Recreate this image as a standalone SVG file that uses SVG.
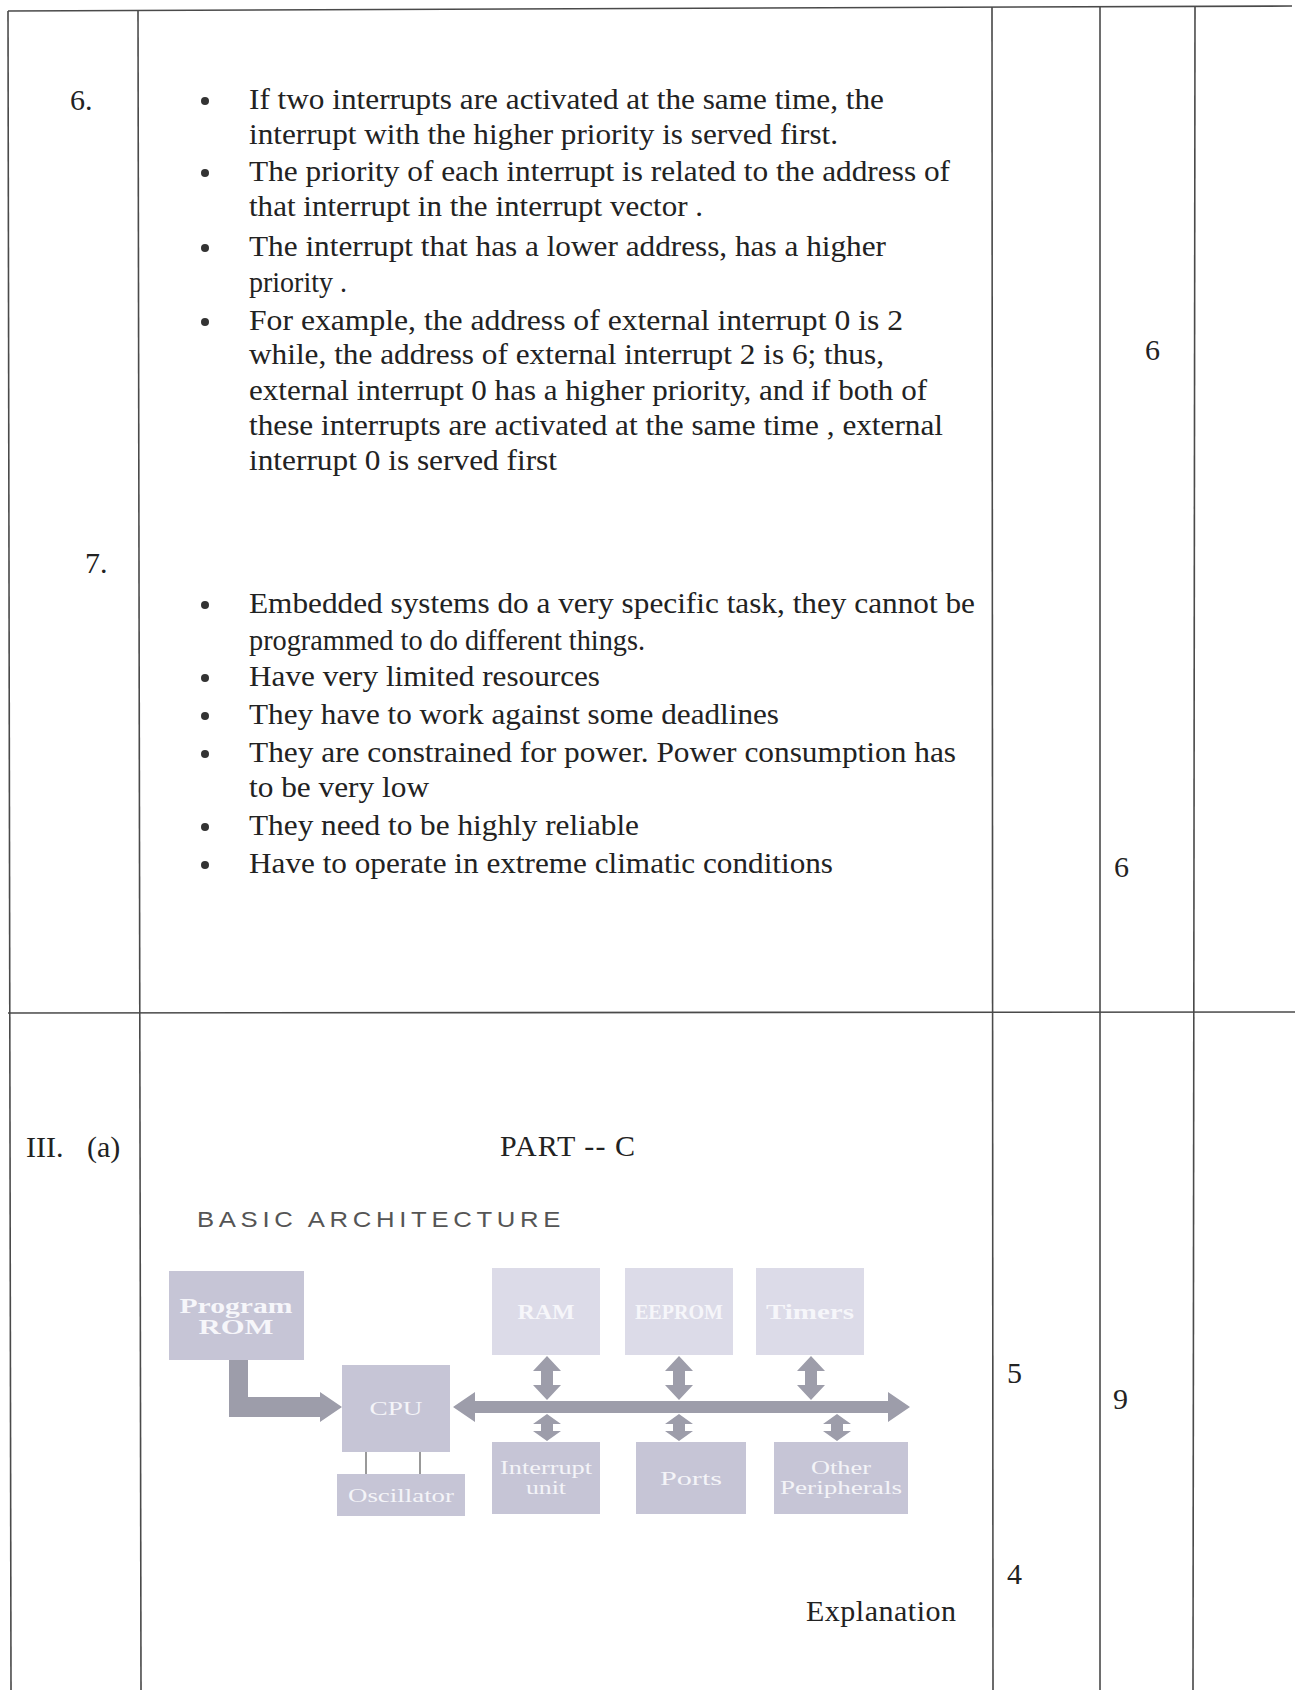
<svg xmlns="http://www.w3.org/2000/svg" width="1295" height="1690" viewBox="0 0 1295 1690">
<style>
.t{font-family:"Liberation Serif","Times New Roman",serif;font-size:30px;fill:#222}
.rule{stroke:#4a4a4a;stroke-width:1.6;fill:none}
.bul{fill:#333}
.box{fill:#c6c5d6}
.boxl{fill:#dcdbe8}
.bl{font-family:"Liberation Serif","Times New Roman",serif;font-size:21px;fill:#f6f6fa;text-anchor:middle;font-weight:bold}
.bw{font-family:"Liberation Serif","Times New Roman",serif;font-size:19px;fill:#f4f4f8;text-anchor:middle}
.arr{fill:#9d9daa}
.head{font-family:"Liberation Sans",Arial,sans-serif;font-size:22px;fill:#555;letter-spacing:4px}
</style>
<rect width="1295" height="1690" fill="#ffffff"/>
<g id="table">
<line class="rule" x1="8" y1="11" x2="1292" y2="6"/>
<line class="rule" x1="8" y1="1013" x2="1295" y2="1012"/>
<line class="rule" x1="8" y1="11" x2="11" y2="1690"/>
<line class="rule" x1="138" y1="11" x2="141" y2="1690"/>
<line class="rule" x1="992" y1="7" x2="993" y2="1690"/>
<line class="rule" x1="1100" y1="7" x2="1100" y2="1690"/>
<line class="rule" x1="1195" y1="6" x2="1193" y2="1690"/>
</g>
<g id="q6">
<text class="t" x="70" y="110">6.</text>
<circle class="bul" cx="205" cy="101" r="4"/>
<circle class="bul" cx="205" cy="173" r="4"/>
<circle class="bul" cx="205" cy="248" r="4"/>
<circle class="bul" cx="205" cy="322" r="4"/>
<text class="t" x="249" y="109" textLength="635" lengthAdjust="spacingAndGlyphs">If two interrupts are activated at the same time, the</text>
<text class="t" x="249" y="144" textLength="589" lengthAdjust="spacingAndGlyphs">interrupt with the higher priority is served first.</text>
<text class="t" x="249" y="181" textLength="701" lengthAdjust="spacingAndGlyphs">The priority of each interrupt is related to the address of</text>
<text class="t" x="249" y="216" textLength="454" lengthAdjust="spacingAndGlyphs">that interrupt in the interrupt vector .</text>
<text class="t" x="249" y="256" textLength="637" lengthAdjust="spacingAndGlyphs">The interrupt that has a lower address, has a higher</text>
<text class="t" x="249" y="292" textLength="98" lengthAdjust="spacingAndGlyphs">priority .</text>
<text class="t" x="249" y="330" textLength="654" lengthAdjust="spacingAndGlyphs">For example, the address of external interrupt  0 is 2</text>
<text class="t" x="249" y="364" textLength="635" lengthAdjust="spacingAndGlyphs">while, the address of external interrupt 2 is 6; thus,</text>
<text class="t" x="249" y="400" textLength="678" lengthAdjust="spacingAndGlyphs">external interrupt 0 has a  higher priority, and if both of</text>
<text class="t" x="249" y="435" textLength="694" lengthAdjust="spacingAndGlyphs">these interrupts are activated at the same time , external</text>
<text class="t" x="249" y="470" textLength="308" lengthAdjust="spacingAndGlyphs">interrupt 0 is served first</text>
<text class="t" x="1145" y="360">6</text>
</g>
<g id="q7">
<text class="t" x="85" y="573">7.</text>
<circle class="bul" cx="205" cy="605" r="4"/>
<circle class="bul" cx="205" cy="678" r="4"/>
<circle class="bul" cx="205" cy="716" r="4"/>
<circle class="bul" cx="205" cy="754" r="4"/>
<circle class="bul" cx="205" cy="827" r="4"/>
<circle class="bul" cx="205" cy="865" r="4"/>
<text class="t" x="249" y="613" textLength="726" lengthAdjust="spacingAndGlyphs">Embedded systems do a very specific task, they cannot be</text>
<text class="t" x="249" y="650" textLength="396" lengthAdjust="spacingAndGlyphs">programmed to do different things.</text>
<text class="t" x="249" y="686" textLength="351" lengthAdjust="spacingAndGlyphs">Have very limited resources</text>
<text class="t" x="249" y="724" textLength="530" lengthAdjust="spacingAndGlyphs">They have to work against some deadlines</text>
<text class="t" x="249" y="762" textLength="707" lengthAdjust="spacingAndGlyphs">They are constrained for power. Power consumption has</text>
<text class="t" x="249" y="797" textLength="180" lengthAdjust="spacingAndGlyphs">to be very low</text>
<text class="t" x="249" y="835" textLength="390" lengthAdjust="spacingAndGlyphs">They need to be highly reliable</text>
<text class="t" x="249" y="873" textLength="584" lengthAdjust="spacingAndGlyphs">Have to operate in extreme climatic conditions</text>
<text class="t" x="1114" y="877">6</text>
</g>
<g id="q3a">
<text class="t" x="26" y="1157">III.</text>
<text class="t" x="87" y="1157">(a)</text>
<text class="t" x="500" y="1156" textLength="135">PART -- C</text>
<text class="head" x="197" y="1227" textLength="368" lengthAdjust="spacingAndGlyphs">BASIC ARCHITECTURE</text>
<text class="t" x="1007" y="1383">5</text>
<text class="t" x="1113" y="1409">9</text>
<text class="t" x="1007" y="1584">4</text>
<text class="t" x="806" y="1621" textLength="150">Explanation</text>
</g>
<g id="connectors">
<path class="arr" d="M229,1360 H248 V1397 H320 V1392 L342,1407 L320,1422 V1417 H229 Z"/>
<path class="arr" d="M453,1407 L475,1392 V1401 H888 V1392 L910,1407 L888,1422 V1413 H475 V1422 Z"/>
<path class="arr" d="M547,1356 L561,1371 H553 V1385 H561 L547,1400 L533,1385 H541 V1371 H533 Z"/>
<path class="arr" d="M679,1356 L693,1371 H685 V1385 H693 L679,1400 L665,1385 H673 V1371 H665 Z"/>
<path class="arr" d="M811,1356 L825,1371 H817 V1385 H825 L811,1400 L797,1385 H805 V1371 H797 Z"/>
<path class="arr" d="M547,1414 L561,1424 H553 V1431 H561 L547,1441 L533,1431 H541 V1424 H533 Z"/>
<path class="arr" d="M679,1414 L693,1424 H685 V1431 H693 L679,1441 L665,1431 H673 V1424 H665 Z"/>
<path class="arr" d="M837,1414 L851,1424 H843 V1431 H851 L837,1441 L823,1431 H831 V1424 H823 Z"/>
<line x1="366" y1="1452" x2="366" y2="1474" stroke="#555" stroke-width="1.2"/>
<line x1="420" y1="1452" x2="420" y2="1474" stroke="#555" stroke-width="1.2"/>
</g>
<g id="rom">
<rect class="box" x="169" y="1271" width="135" height="89"/>
<text class="bl" x="236" y="1313" textLength="113" lengthAdjust="spacingAndGlyphs">Program</text>
<text class="bl" x="236" y="1334" textLength="75" lengthAdjust="spacingAndGlyphs">ROM</text>
</g>
<g id="cpu">
<rect class="box" x="342" y="1365" width="108" height="87"/>
<text class="bw" x="396" y="1415" textLength="53" lengthAdjust="spacingAndGlyphs">CPU</text>
</g>
<g id="oscillator">
<rect class="box" x="337" y="1474" width="128" height="42"/>
<text class="bw" x="401" y="1502" textLength="106" lengthAdjust="spacingAndGlyphs">Oscillator</text>
</g>
<g id="ram">
<rect class="boxl" x="492" y="1268" width="108" height="87"/>
<text class="bl" x="546" y="1319" textLength="57" lengthAdjust="spacingAndGlyphs">RAM</text>
</g>
<g id="eeprom">
<rect class="boxl" x="625" y="1268" width="108" height="87"/>
<text class="bl" x="679" y="1319" textLength="88" lengthAdjust="spacingAndGlyphs">EEPROM</text>
</g>
<g id="timers">
<rect class="boxl" x="756" y="1268" width="108" height="87"/>
<text class="bl" x="810" y="1319" textLength="88" lengthAdjust="spacingAndGlyphs">Timers</text>
</g>
<g id="interrupt">
<rect class="box" x="492" y="1442" width="108" height="72"/>
<text class="bw" x="546" y="1474" textLength="92" lengthAdjust="spacingAndGlyphs">Interrupt</text>
<text class="bw" x="546" y="1494" textLength="40" lengthAdjust="spacingAndGlyphs">unit</text>
</g>
<g id="ports">
<rect class="box" x="636" y="1442" width="110" height="72"/>
<text class="bw" x="691" y="1485" textLength="62" lengthAdjust="spacingAndGlyphs">Ports</text>
</g>
<g id="other">
<rect class="box" x="774" y="1442" width="134" height="72"/>
<text class="bw" x="841" y="1474" textLength="60" lengthAdjust="spacingAndGlyphs">Other</text>
<text class="bw" x="841" y="1494" textLength="122" lengthAdjust="spacingAndGlyphs">Peripherals</text>
</g>
</svg>
